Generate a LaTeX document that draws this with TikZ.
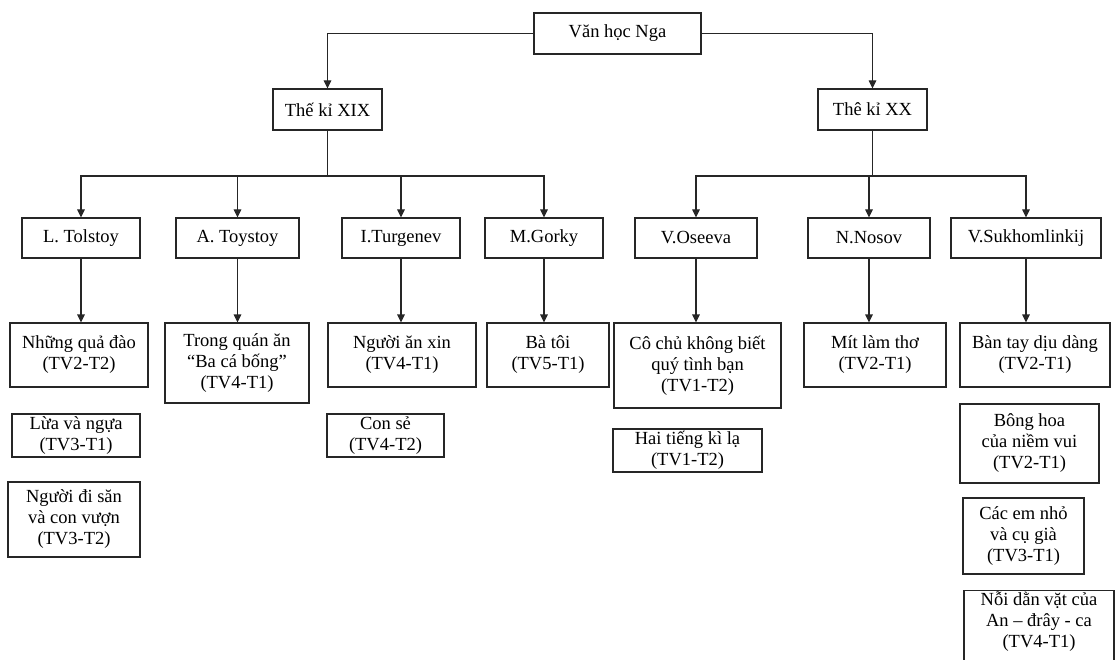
\documentclass[tikz,border=0pt]{standalone}
\usepackage{fontspec}
\setmainfont{Liberation Serif}
\usetikzlibrary{arrows.meta}
\tikzset{
  box/.style={draw=black!85, line width=1.05pt, align=center, inner sep=0pt,
    font=\fontsize{18.5}{21}\selectfont},
  arr/.style={draw=black!85, line width=1.05pt, -{Triangle[width=7.5pt,length=8pt]}},
  ln/.style={draw=black!85, line width=1.05pt}
}
\begin{document}
\begin{tikzpicture}[x=1pt,y=-1pt]
\useasboundingbox (0,0) rectangle (1116,660);
\clip (0,0) rectangle (1116,660);
% level 0/1
\node[box, minimum width=167pt, minimum height=41pt] (root) at (617.5,33.5) {Văn học Nga};
\node[box, minimum width=109pt, minimum height=41pt] (xix) at (327.5,109.5) {Thế kỉ XIX};
\node[box, minimum width=109pt, minimum height=41pt] (xx) at (872.5,109.5) {Thê kỉ XX};
% authors
\node[box, minimum width=118pt, minimum height=40pt] (tol) at (81,238) {L. Tolstoy};
\node[box, minimum width=123pt, minimum height=40pt] (toy) at (237.5,238) {A. Toystoy};
\node[box, minimum width=118pt, minimum height=40pt] (tur) at (401,238) {I.Turgenev};
\node[box, minimum width=118pt, minimum height=40pt] (gor) at (544,238) {M.Gorky};
\node[box, minimum width=122pt, minimum height=40pt] (ose) at (696,238) {V.Oseeva};
\node[box, minimum width=122pt, minimum height=40pt] (nos) at (869,238) {N.Nosov};
\node[box, minimum width=150pt, minimum height=40pt] (suk) at (1026,238) {V.Sukhomlinkij};
% books row 1
\node[box, minimum width=138pt, minimum height=64pt] (b1) at (79,355) {Những quả đào\\(TV2-T2)};
\node[box, minimum width=144pt, minimum height=80pt] (b2) at (237,363) {Trong quán ăn\\“Ba cá bống”\\(TV4-T1)};
\node[box, minimum width=148pt, minimum height=64pt] (b3) at (402,355) {Người ăn xin\\(TV4-T1)};
\node[box, minimum width=122pt, minimum height=64pt] (b4) at (548,355) {Bà tôi\\(TV5-T1)};
\node[box, minimum width=167pt, minimum height=85pt] (b5) at (697.5,365.5) {Cô chủ không biết\\quý tình bạn\\(TV1-T2)};
\node[box, minimum width=142pt, minimum height=64pt] (b6) at (875,355) {Mít làm thơ\\(TV2-T1)};
\node[box, minimum width=150pt, minimum height=64pt] (b7) at (1035,355) {Bàn tay dịu dàng\\(TV2-T1)};
% further books
\node[box, minimum width=128pt, minimum height=43pt] (c1) at (76,435.5) {Lừa và ngựa\\(TV3-T1)};
\node[box, minimum width=132pt, minimum height=75pt] (c2) at (74,519.5) {Người đi săn\\và con vượn\\(TV3-T2)};
\node[box, minimum width=117pt, minimum height=43pt] (c3) at (385.5,435.5) {Con sẻ\\(TV4-T2)};
\node[box, minimum width=149pt, minimum height=43pt] (c4) at (687.5,450.5) {Hai tiếng kì lạ\\(TV1-T2)};
\node[box, minimum width=139pt, minimum height=79pt] (c5) at (1029.5,443.5) {Bông hoa\\của niềm vui\\(TV2-T1)};
\node[box, minimum width=121pt, minimum height=76pt] (c6) at (1023.5,536) {Các em nhỏ\\và cụ già\\(TV3-T1)};
\node[box, minimum width=150pt, minimum height=82pt, anchor=north] (c7) at (1039,590) {Nỗi dằn vặt của\\An – đrây - ca\\(TV4-T1)\\[2pt]};
% connectors top
\draw[arr] (root.west) -| (xix.north);
\draw[arr] (root.east) -| (xx.north);
\coordinate (bar) at (0,176);
\draw[ln] (xix.south) -- (xix.south |- bar);
\foreach \n in {tol,toy,tur,gor} \draw[arr] (xix.south |- bar) -| (\n.north);
\draw[ln] (xx.south) -- (xx.south |- bar);
\foreach \n in {ose,nos,suk} \draw[arr] (xx.south |- bar) -| (\n.north);
% connectors authors -> books
\draw[arr] (tol.south) -- (tol.south |- b1.north);
\draw[arr] (toy.south) -- (toy.south |- b2.north);
\draw[arr] (tur.south) -- (tur.south |- b3.north);
\draw[arr] (gor.south) -- (gor.south |- b4.north);
\draw[arr] (ose.south) -- (ose.south |- b5.north);
\draw[arr] (nos.south) -- (nos.south |- b6.north);
\draw[arr] (suk.south) -- (suk.south |- b7.north);
\end{tikzpicture}
\end{document}
